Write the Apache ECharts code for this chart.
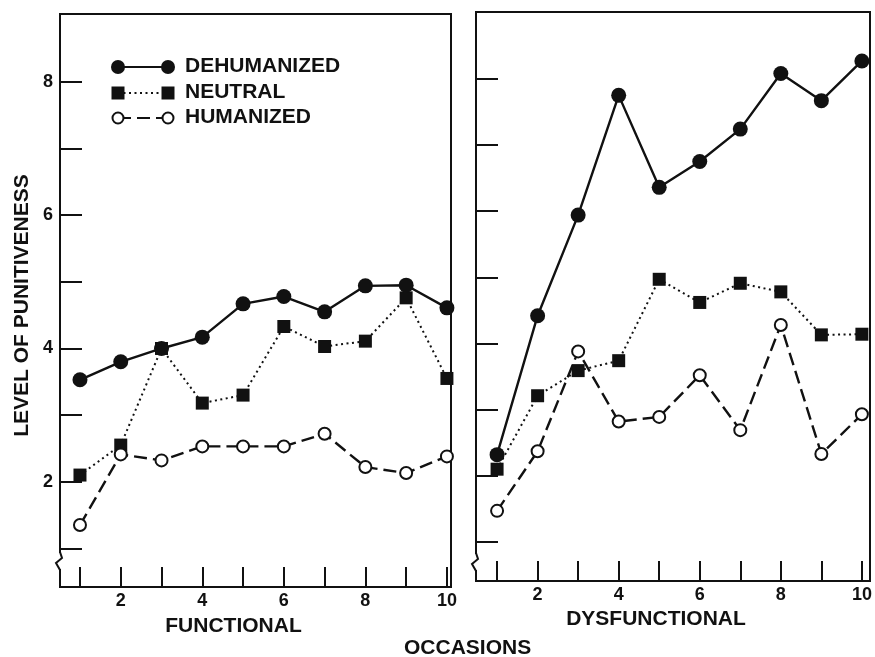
<!DOCTYPE html>
<html>
<head>
<meta charset="utf-8">
<script src="https://cdn.jsdelivr.net/npm/echarts@6/dist/echarts.min.js"></script>
<style>html,body{margin:0;padding:0;background:#fff;}#chart{width:875px;height:657px;}</style>
</head>
<body>
<div id="chart"></div>
<script>
var occasions = [1, 2, 3, 4, 5, 6, 7, 8, 9, 10];
var yTickValues = [1, 2, 3, 4, 5, 6, 7, 8];
var yLabelValues = [2, 4, 6, 8];
var xLabelValues = [2, 4, 6, 8, 10];

var funcDehumanized = [3.53, 3.80, 4.00, 4.17, 4.67, 4.78, 4.55, 4.94, 4.95, 4.61];
var funcNeutral     = [2.10, 2.55, 4.00, 3.18, 3.30, 4.33, 4.03, 4.11, 4.76, 3.55];
var funcHumanized   = [1.35, 2.41, 2.32, 2.53, 2.53, 2.53, 2.72, 2.22, 2.13, 2.38];

var dysDehumanized  = [2.32, 4.42, 5.94, 7.75, 6.36, 6.75, 7.24, 8.08, 7.67, 8.27];
var dysNeutral      = [2.10, 3.21, 3.59, 3.74, 4.97, 4.62, 4.91, 4.78, 4.13, 4.14];
var dysHumanized    = [1.47, 2.37, 3.88, 2.82, 2.89, 3.52, 2.69, 4.28, 2.33, 2.93];

var seriesNames = ['DEHUMANIZED', 'NEUTRAL', 'HUMANIZED'];

function pairs(vals) { return occasions.map(function (x, i) { return [x, vals[i]]; }); }

var FONT = 'Liberation Sans';
var black = '#111';

function makeX(idx, min, max, name, pad, gap) {
  return {
    type: 'value', gridIndex: idx, min: min, max: max,
    splitLine: { show: false },
    axisLine: { show: true, lineStyle: { color: black, width: 2 } },
    axisTick: { show: true, inside: true, length: 20, customValues: occasions, lineStyle: { color: black, width: 2 } },
    axisLabel: { show: true, customValues: xLabelValues, color: black, fontFamily: FONT, fontWeight: 'bold', fontSize: 18, margin: 5 },
    name: name, nameLocation: 'middle', nameGap: gap,
    nameTextStyle: { color: black, fontFamily: FONT, fontWeight: 'bold', fontSize: 21, padding: pad }
  };
}
function makeY(idx, min, max, showLabels, name) {
  return {
    type: 'value', gridIndex: idx, min: min, max: max,
    splitLine: { show: false },
    axisLine: { show: true, lineStyle: { color: black, width: 2 } },
    axisTick: { show: true, inside: true, length: 22, customValues: yTickValues, lineStyle: { color: black, width: 2 } },
    axisLabel: { show: showLabels, customValues: yLabelValues, color: black, fontFamily: FONT, fontWeight: 'bold', fontSize: 18, margin: 7 },
    name: name, nameLocation: 'middle', nameGap: 27,
    nameTextStyle: { color: black, fontFamily: FONT, fontWeight: 'bold', fontSize: 21, padding: [0, 10, 0, 0] }
  };
}

function lineSeries(name, vals, xi, kind) {
  var s = { name: name, type: 'line', xAxisIndex: xi, yAxisIndex: xi, data: pairs(vals), animation: false };
  if (kind === 0) {
    s.symbol = 'circle'; s.symbolSize = 15; s.z = 4;
    s.itemStyle = { color: black };
    s.lineStyle = { color: black, width: 2.4, type: 'solid' };
  } else if (kind === 1) {
    s.symbol = 'rect'; s.symbolSize = 13; s.z = 3;
    s.itemStyle = { color: black };
    s.lineStyle = { color: black, width: 2, type: [2, 3.5] };
  } else {
    s.symbol = 'circle'; s.symbolSize = 12; s.z = 5;
    s.itemStyle = { color: '#fff', borderColor: black, borderWidth: 2 };
    s.lineStyle = { color: black, width: 2.4, type: [13, 6] };
  }
  return s;
}

var legendRows = [67, 93, 118];
var legendGraphics = [];
legendRows.forEach(function (y, i) {
  var dash = i === 0 ? null : (i === 1 ? [2, 3.5] : [13, 6]);
  legendGraphics.push({ type: 'line', shape: { x1: 118, y1: y, x2: 168, y2: y },
    style: { stroke: black, lineWidth: 2, lineDash: dash }, z: 10 });
  [118, 168].forEach(function (x) {
    if (i === 0) legendGraphics.push({ type: 'circle', shape: { cx: x, cy: y, r: 7 }, style: { fill: black }, z: 11 });
    else if (i === 1) legendGraphics.push({ type: 'rect', shape: { x: x - 6.5, y: y - 6.5, width: 13, height: 13 }, style: { fill: black }, z: 11 });
    else legendGraphics.push({ type: 'circle', shape: { cx: x, cy: y, r: 5.5 }, style: { fill: '#fff', stroke: black, lineWidth: 2 }, z: 11 });
  });
  legendGraphics.push({ type: 'text', left: 185, top: y - 11, z: 11,
    style: { text: seriesNames[i], fill: black, font: 'bold 21px "Liberation Sans"' } });
});

function breakMark(x, y) {
  return [
    { type: 'rect', shape: { x: x - 6, y: y - 2, width: 10, height: 16 }, style: { fill: '#fff' }, z: 20 },
    { type: 'polyline', shape: { points: [[x, y - 3], [x + 2, y + 3], [x - 4, y + 8], [x, y + 15]] },
      style: { stroke: black, lineWidth: 2, fill: null }, z: 21 }
  ];
}

var graphics = legendGraphics
  .concat(breakMark(60, 555))
  .concat(breakMark(476, 556))
  .concat([{ type: 'text', left: 404, top: 638, z: 11,
    style: { text: 'OCCASIONS', fill: black, font: 'bold 21px "Liberation Sans"' } }]);

var option = {
  backgroundColor: '#fff',
  animation: false,
  grid: [
    { left: 60, top: 14, width: 391, height: 573, show: true, borderColor: black, borderWidth: 2, backgroundColor: 'transparent' },
    { left: 476, top: 12, width: 394, height: 569, show: true, borderColor: black, borderWidth: 2, backgroundColor: 'transparent' }
  ],
  xAxis: [
    makeX(0, 0.51, 10.1, 'FUNCTIONAL', [0, 44, 0, 0], 29),
    makeX(1, 0.48, 10.2, 'DYSFUNCTIONAL', [0, 34, 0, 0], 27)
  ],
  yAxis: [
    makeY(0, 0.42, 9.02, true, 'LEVEL OF PUNITIVENESS'),
    makeY(1, 0.41, 9.01, false, '')
  ],
  series: [
    lineSeries(seriesNames[0], funcDehumanized, 0, 0),
    lineSeries(seriesNames[1], funcNeutral, 0, 1),
    lineSeries(seriesNames[2], funcHumanized, 0, 2),
    lineSeries(seriesNames[0], dysDehumanized, 1, 0),
    lineSeries(seriesNames[1], dysNeutral, 1, 1),
    lineSeries(seriesNames[2], dysHumanized, 1, 2)
  ],
  graphic: graphics
};

var chart = echarts.init(document.getElementById('chart'), null, { renderer: 'canvas' });
chart.setOption(option);
</script>
</body>
</html>
